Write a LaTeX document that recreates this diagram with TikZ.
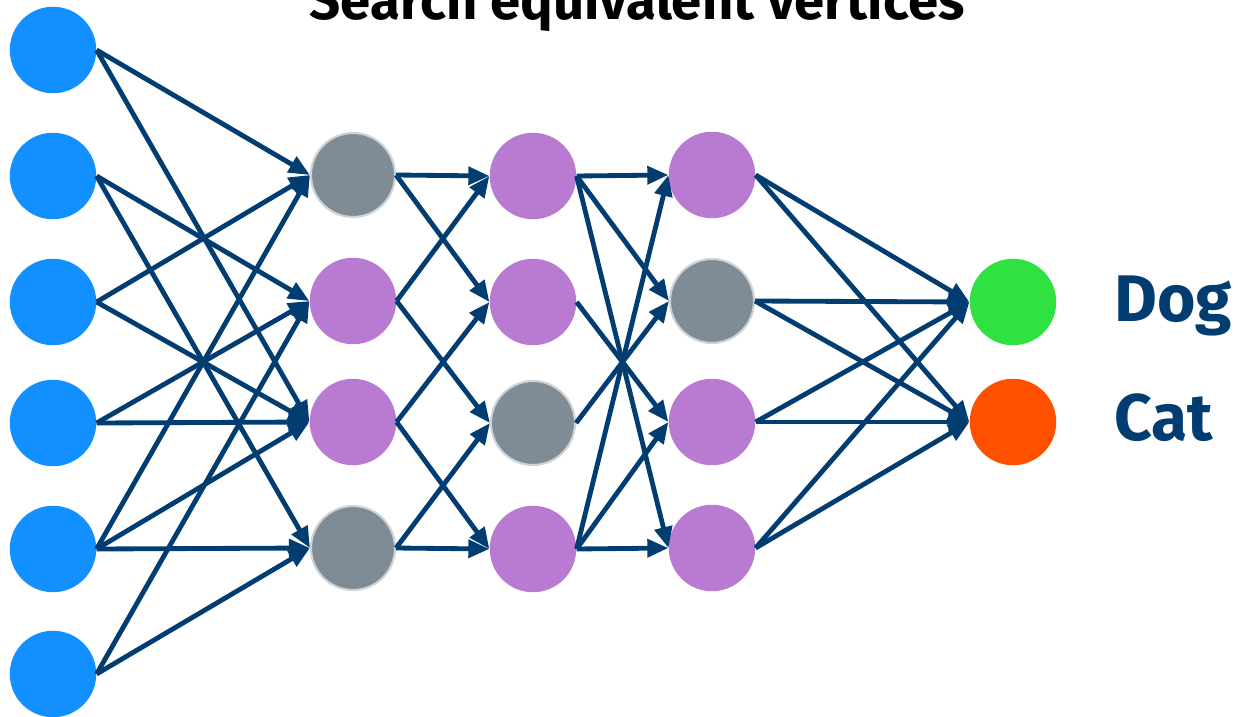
\documentclass[tikz,border=0pt]{standalone}
\usepackage{fontspec}
\setmainfont{Fira Sans}
\usetikzlibrary{arrows.meta}
\definecolor{nblue}{HTML}{1290FF}
\definecolor{ngray}{HTML}{7F8C95}
\definecolor{ngrayb}{HTML}{CDD3D6}
\definecolor{npurple}{HTML}{B97BD2}
\definecolor{ngreen}{HTML}{30E142}
\definecolor{nred}{HTML}{FF5000}
\definecolor{edgec}{HTML}{023D72}
\begin{document}
\begin{tikzpicture}[x=0.02cm,y=-0.02cm,
  neuron/.style={circle,minimum size=1.73cm,inner sep=0pt},
  inp/.style={neuron,fill=nblue},
  grey/.style={neuron,fill=ngray,draw=ngrayb,line width=1.2pt,minimum size=1.68cm},
  purp/.style={neuron,fill=npurple},
  dogn/.style={neuron,fill=ngreen},
  catn/.style={neuron,fill=nred},
  conn/.style={draw=edgec,line width=2.75pt,-{Triangle[length=12pt,width=10pt]}},
  lab/.style={font=\bfseries\fontsize{37.5}{42}\selectfont,text=edgec,anchor=base west,inner sep=0pt},
  ttl/.style={font=\bfseries\fontsize{31}{36}\selectfont,anchor=base,inner sep=0pt}
]
\clip (0,0) rectangle (1238,717);
\node[ttl] (title) at (637,19) {Search equivalent vertices};
% input layer
\node[inp] (i1) at (53,50) {};
\node[inp] (i2) at (53,176) {};
\node[inp] (i3) at (53,302) {};
\node[inp] (i4) at (53,423) {};
\node[inp] (i5) at (53,549) {};
\node[inp] (i6) at (53,674) {};
% layer 1
\node[grey] (a1) at (353,175) {};
\node[purp] (a2) at (353,301) {};
\node[purp] (a3) at (353,422) {};
\node[grey] (a4) at (353,548) {};
% layer 2
\node[purp] (b1) at (533,176) {};
\node[purp] (b2) at (533,302) {};
\node[grey] (b3) at (533,423) {};
\node[purp] (b4) at (533,549) {};
% layer 3
\node[purp] (c1) at (712,175) {};
\node[grey] (c2) at (712,301) {};
\node[purp] (c3) at (712,422) {};
\node[purp] (c4) at (712,548) {};
% output
\node[dogn] (o1) at (1013,302) {};
\node[catn] (o2) at (1013,422) {};
\node[lab] (dog) at (1114,321) {Dog};
\node[lab] (cat) at (1114,440) {Cat};
% edges input -> layer 1
\foreach \s/\t in {i1/a1,i1/a3,i2/a2,i2/a4,i3/a1,i3/a3,i4/a2,i4/a3,i5/a1,i5/a3,i5/a4,i6/a2,i6/a4}
  \draw[conn] (\s.east) -- (\t.west);
% layer 1 -> layer 2
\foreach \s/\t in {a1/b1,a1/b2,a2/b1,a2/b3,a3/b2,a3/b4,a4/b3,a4/b4}
  \draw[conn] (\s.east) -- (\t.west);
% layer 2 -> layer 3
\foreach \s/\t in {b1/c1,b1/c2,b1/c4,b2/c3,b3/c2,b4/c1,b4/c3,b4/c4}
  \draw[conn] (\s.east) -- (\t.west);
% layer 3 -> output
\foreach \s/\t in {c1/o1,c1/o2,c2/o1,c2/o2,c3/o1,c3/o2,c4/o1,c4/o2}
  \draw[conn] (\s.east) -- (\t.west);
\end{tikzpicture}
\end{document}
